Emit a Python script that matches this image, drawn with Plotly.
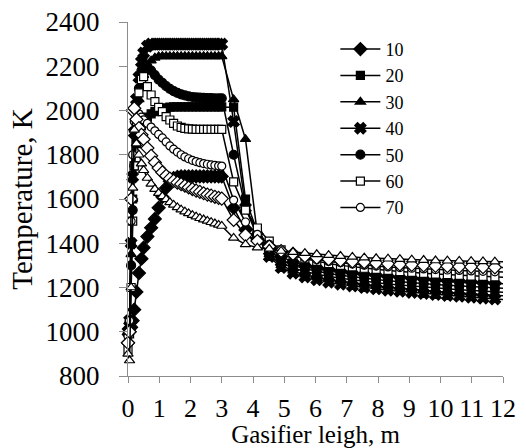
import plotly.graph_objects as go

# Gasifier length positions (m)
x_m = [0, 0.05, 0.1, 0.15, 0.2, 0.27, 0.35, 0.43, 0.5,
       0.62, 0.74, 0.86, 0.98, 1.1, 1.22, 1.34, 1.46, 1.58, 1.7,
       1.82, 1.94, 2.06, 2.18, 2.3, 2.42, 2.54, 2.66, 2.78, 2.9,
       3.0,
       3.38, 3.76, 4.14, 4.52, 4.9, 5.28, 5.66, 6.04, 6.42, 6.8, 7.18, 7.56,
       7.94, 8.32, 8.7, 9.08, 9.46, 9.84, 10.22, 10.6, 10.98, 11.36, 11.74, 12.12]

t10 = [950, 1000, 1020, 1050, 1100, 1180, 1265, 1330, 1380,
       1430, 1470, 1510, 1560, 1610, 1650, 1680, 1695, 1700, 1702,
       1702, 1702, 1702, 1702, 1702, 1702, 1702, 1702, 1702, 1702,
       1702,
       1560, 1460, 1420, 1380, 1340, 1315, 1300, 1290, 1281, 1273, 1266, 1260,
       1255, 1250, 1246, 1242, 1238, 1234, 1231, 1228, 1225, 1222, 1219, 1216]

t20 = [1000, 1030, 1400, 1600, 1750, 1850, 1900, 1930, 1950,
       1970, 1985, 1995, 2003, 2008, 2012, 2015, 2016, 2016, 2016,
       2016, 2016, 2016, 2016, 2016, 2016, 2016, 2016, 2016, 2016,
       2016,
       2015, 1600, 1450, 1360, 1312, 1288, 1272, 1260, 1250, 1242, 1235, 1228,
       1222, 1216, 1211, 1206, 1202, 1198, 1194, 1190, 1187, 1184, 1181, 1178]

t30 = [1000, 1050, 1350, 1600, 1800, 1950, 2050, 2120, 2160,
       2200, 2225, 2238, 2244, 2245, 2245, 2245, 2245, 2245, 2245,
       2245, 2245, 2245, 2245, 2245, 2245, 2245, 2245, 2245, 2245,
       2245,
       2050, 1870, 1440, 1350, 1300, 1275, 1258, 1246, 1236, 1228, 1220, 1213,
       1207, 1201, 1196, 1191, 1187, 1183, 1179, 1175, 1171, 1168, 1165, 1162]

t40 = [1000, 1050, 1400, 1700, 1900, 2050, 2150, 2220, 2260,
       2290, 2300, 2300, 2300, 2300, 2300, 2300, 2300, 2300, 2300,
       2300, 2300, 2300, 2300, 2300, 2300, 2300, 2300, 2300, 2300,
       2300,
       1950, 1560, 1430, 1340, 1290, 1265, 1248, 1235, 1224, 1215, 1207, 1200,
       1194, 1188, 1183, 1178, 1173, 1168, 1164, 1160, 1156, 1152, 1148, 1144]

t50 = [1000, 1050, 1300, 1550, 1750, 1950, 2100, 2180, 2210,
       2200, 2180, 2160, 2140, 2125, 2110, 2098, 2088, 2080, 2073,
       2068, 2064, 2061, 2059, 2058, 2057, 2056, 2056, 2055, 2055,
       2055,
       1800, 1560, 1450, 1370, 1325, 1300, 1285, 1273, 1263, 1255, 1248, 1242,
       1236, 1231, 1226, 1222, 1218, 1214, 1210, 1207, 1204, 1201, 1198, 1196]

t60 = [920, 990, 1200, 1500, 1750, 1950, 2080, 2140, 2153,
       2108, 2070, 2040, 2014, 1995, 1972, 1957, 1942, 1930, 1924,
       1919, 1917, 1916, 1915, 1915, 1915, 1915, 1915, 1915, 1915,
       1915,
       1677, 1550, 1469, 1410, 1370, 1345, 1330, 1318, 1308, 1300, 1293, 1287,
       1282, 1277, 1272, 1268, 1264, 1261, 1258, 1255, 1252, 1250, 1248, 1246]

t70 = [980, 1050, 1500, 1800, 1950, 1990, 1985, 1970, 1958,
       1942, 1925, 1908, 1892, 1876, 1858, 1840, 1825, 1812, 1800,
       1790, 1782, 1775, 1769, 1764, 1760, 1757, 1754, 1752, 1750,
       1749,
       1595, 1496, 1440, 1395, 1365, 1345, 1335, 1325, 1318, 1312, 1306, 1301,
       1297, 1293, 1290, 1287, 1284, 1281, 1279, 1277, 1275, 1273, 1271, 1270]

t80 = [950, 1000, 1600, 2000, 2010, 1960, 1920, 1890, 1870,
       1830, 1795, 1765, 1740, 1720, 1705, 1692, 1682, 1674, 1667,
       1660, 1652, 1645, 1638, 1632, 1626, 1620, 1615, 1610, 1605,
       1602,
       1505, 1437, 1410, 1385, 1365, 1352, 1342, 1335, 1328, 1322, 1318, 1314,
       1310, 1307, 1304, 1302, 1300, 1298, 1296, 1294, 1293, 1292, 1291, 1290]

t90 = [900, 870, 1200, 1650, 1912, 1850, 1800, 1760, 1730,
       1695, 1668, 1645, 1627, 1612, 1598, 1585, 1573, 1562, 1552,
       1543, 1535, 1527, 1520, 1513, 1507, 1501, 1495, 1489, 1483,
       1478,
       1424, 1395, 1380, 1375, 1365, 1360, 1355, 1350, 1346, 1342, 1338, 1335,
       1332, 1330, 1328, 1326, 1324, 1322, 1321, 1320, 1319, 1318, 1317, 1316]

series_names = ["10", "20", "30", "40", "50", "60", "70", "80", "90"]
series_values = [t10, t20, t30, t40, t50, t60, t70, t80, t90]
in_legend = [True, True, True, True, True, True, True, False, False]

x_ticks = [0, 1, 2, 3, 4, 5, 6, 7, 8, 9, 10, 11, 12]
y_ticks = [800, 1000, 1200, 1400, 1600, 1800, 2000, 2200, 2400]

styles = {
    "10": dict(symbol="diamond", size=10, color="black"),
    "20": dict(symbol="square", size=8, color="black"),
    "30": dict(symbol="triangle-up", size=9, color="black"),
    "40": dict(symbol="x", size=10, color="black"),
    "50": dict(symbol="circle", size=9, color="black"),
    "60": dict(symbol="square", size=8, color="white"),
    "70": dict(symbol="circle", size=8, color="white"),
    "80": dict(symbol="diamond", size=10, color="white"),
    "90": dict(symbol="triangle-up", size=9, color="white"),
}

SERIF = "Liberation Serif, Times New Roman, serif"

fig = go.Figure()
for name, vals, leg in zip(series_names, series_values, in_legend):
    st = styles[name]
    fig.add_trace(go.Scatter(
        x=x_m, y=vals, name=name, mode="lines+markers", showlegend=leg,
        line=dict(color="black", width=1.5),
        marker=dict(symbol=st["symbol"], size=st["size"], color=st["color"],
                    line=dict(color="black", width=1.2)),
        cliponaxis=False,
    ))

axis_col = "#8c8c8c"
fig.update_layout(
    width=526, height=448,
    margin=dict(l=128, r=23, t=22, b=72),
    paper_bgcolor="white", plot_bgcolor="white",
    font=dict(family=SERIF, color="black"),
    legend=dict(x=0.553, y=0.975, xanchor="left", yanchor="top",
                font=dict(size=18, family=SERIF, color="black"),
                bgcolor="rgba(0,0,0,0)", borderwidth=0, tracegroupgap=0,
                itemwidth=40),
    xaxis=dict(range=[0, 12], tickvals=x_ticks, ticks="outside", ticklen=6,
               tickcolor=axis_col, showline=True, linecolor=axis_col, linewidth=1,
               showgrid=False, zeroline=False, automargin=False,
               tickfont=dict(size=26, family=SERIF, color="black"),
               ticklabelstandoff=3,
               title=dict(text="Gasifier leigh, m", standoff=0,
                          font=dict(size=25, family=SERIF, color="black"))),
    yaxis=dict(range=[800, 2400], tickvals=y_ticks, ticks="outside", ticklen=8,
               tickcolor=axis_col, showline=True, linecolor=axis_col, linewidth=1,
               showgrid=False, zeroline=False, automargin=False,
               tickfont=dict(size=27, family=SERIF, color="black"),
               ticklabelstandoff=14,
               title=dict(text="Temperature, K", standoff=4,
                          font=dict(size=29, family=SERIF, color="black"))),
)

fig.write_html("out.html")
